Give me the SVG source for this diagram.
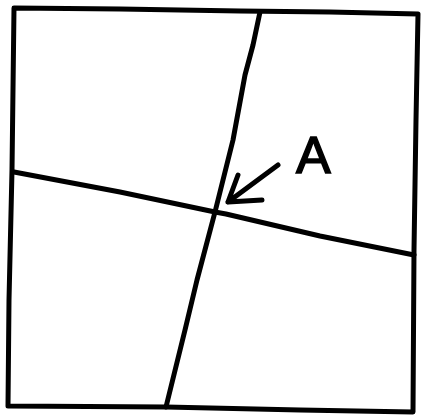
<svg xmlns="http://www.w3.org/2000/svg" width="421" height="418" viewBox="0 0 421 418">
<style>
.ln{fill:none;stroke:#000;stroke-width:5;stroke-linecap:round;stroke-linejoin:round}
.lbl{font-family:"Liberation Sans",Arial,sans-serif;font-size:52px;fill:#000;stroke:#000;stroke-width:1.5}
</style>
<rect width="421" height="418" fill="#fff"/>
<g id="square">
<path class="ln" d="M14,8 L120,9 L240,11 L330,12 L418,14 L416,120 L414,250 L413,412 L300,410 L166,407 L8,406 L9,300 L12,170 L14,8 Z"/>
</g>
<g id="connectors">
<path class="ln" d="M260,12 L253,45 L245,75 L233,140 L215,212 L197,280 L185,330 L166,407"/>
<path class="ln" d="M14,172 L120,192 L215,212 L226,214 L320,236 L414,255"/>
<path class="ln" d="M278,165 L228,202 M238,175 L228,202 L262,200"/>
</g>
<g id="label">
<text class="lbl" x="296" y="173">A</text>
</g>
</svg>
